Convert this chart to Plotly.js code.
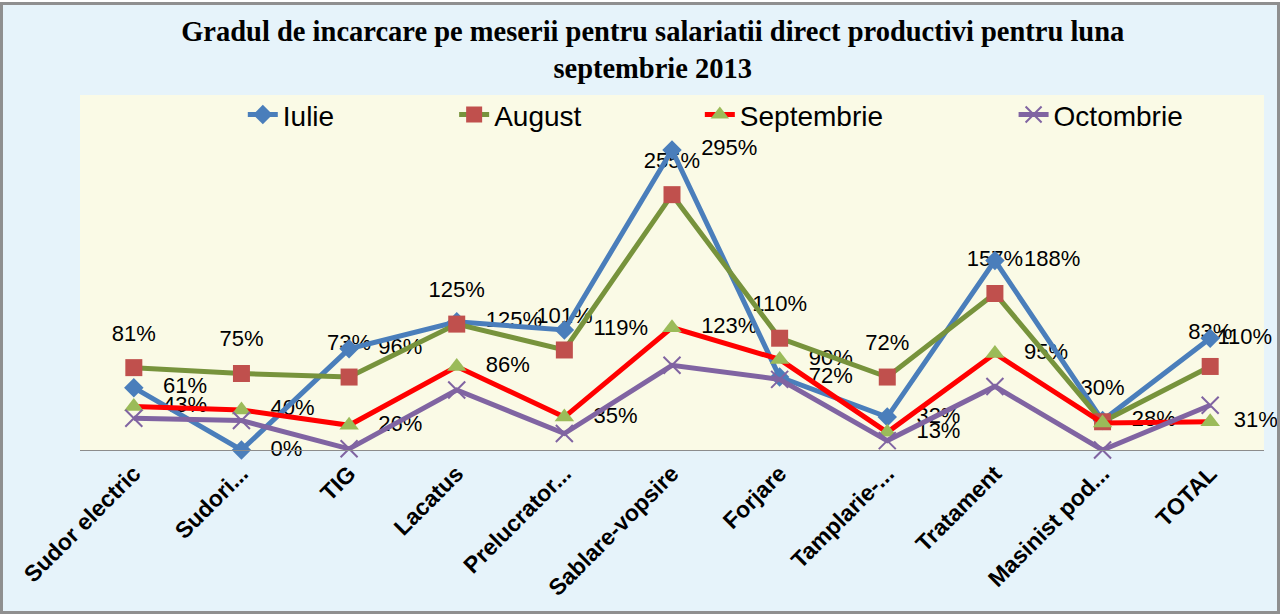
<!DOCTYPE html>
<html>
<head>
<meta charset="utf-8">
<script src="https://cdn.plot.ly/plotly-3.0.1.min.js"></script>
<style>
    body { margin: 0; background: #ffffff; }
    #chart {
        position: absolute; left: 0; top: 2px;
        width: 1280px; height: 612px;
        border: 3px solid #8f8f8f; box-sizing: border-box;
    }
</style>
</head>
<body>
<div id="chart"></div>
<script>
// categories (meserii)
const categories = ['Sudor electric', 'Sudori...', 'TIG', 'Lacatus', 'Prelucrator...', 'Sablare-vopsire',
    'Forjare', 'Tamplarie-...', 'Tratament', 'Masinist pod...', 'TOTAL'];

// plotted values (%)
const iulie      = [53, 0, 86, 109, 102, 255, 62, 28, 161, 25, 95];
const august     = [70, 65, 62, 107, 85, 217, 95, 62, 133, 24, 71];
const septembrie = [37, 34, 21, 71, 28, 104, 77, 15, 82, 23, 24];
const octombrie  = [27, 25, 1, 51, 14, 72, 60, 8, 54, 0, 38];

// data label texts as printed on the chart (%)
const iulieLabels      = [61, 0, 96, 125, 119, 295, 72, 32, 188, 28, 110];
const augustLabels     = [81, 75, 73, 125, 101, 255, 110, 72, 157, 30, 83];
const septembrieLabels = [43, 40, 26, 86, 35, 123, 90, 13, 95, null, 31];

const labelFont = { family: 'Liberation Sans, Arial, sans-serif', size: 22, color: '#000000' };

function pct(arr) {
    return arr.map(function (v) { return v === null ? '' : v + '%'; });
}

// label traces go first so the lines and markers are drawn over them;
// the invisible marker size sets how far the text sits from the point
function labelTrace(values, labels, position, size) {
    return {
        x: categories,
        y: values,
        mode: 'markers+text',
        text: pct(labels),
        textposition: position,
        textfont: labelFont,
        marker: { size: size, opacity: 0 },
        cliponaxis: false,
        showlegend: false,
        hoverinfo: 'skip'
    };
}

// labels at the right edge are pulled in closer, like the original
var rightGap = categories.map(function (c, i) { return i === categories.length - 1 ? 10 : 45; });
var rightGapSept = categories.map(function (c, i) { return i === categories.length - 1 ? 36 : 45; });

var trace1 = {
    x: categories, y: iulie, name: 'Iulie', type: 'scatter', mode: 'lines+markers',
    line: { color: '#4a7ebb', width: 5 },
    marker: { symbol: 'diamond', size: 15, color: '#4a7ebb' },
    cliponaxis: false, legend: 'legend'
};
var trace2 = {
    x: categories, y: august, name: 'August', type: 'scatter', mode: 'lines+markers',
    line: { color: '#77933c', width: 5 },
    marker: { symbol: 'square', size: 17, color: '#c0504d' },
    cliponaxis: false, legend: 'legend2'
};
var trace3 = {
    x: categories, y: septembrie, name: 'Septembrie', type: 'scatter', mode: 'lines+markers',
    line: { color: '#ff0000', width: 5 },
    marker: { symbol: 'triangle-up', size: 17, color: '#9bbb59' },
    cliponaxis: false, legend: 'legend3'
};
var trace4 = {
    x: categories, y: octombrie, name: 'Octombrie', type: 'scatter', mode: 'lines+markers',
    line: { color: '#8064a2', width: 5 },
    marker: { symbol: 'x-thin', size: 17, color: '#8064a2', line: { color: '#8064a2', width: 2 } },
    cliponaxis: false, legend: 'legend4'
};

var data = [
    labelTrace(august, augustLabels, 'top center', 33),
    labelTrace(iulie, iulieLabels, 'middle right', rightGap),
    labelTrace(septembrie, septembrieLabels, 'middle right', rightGapSept),
    trace1, trace2, trace3, trace4
];

var legendFont = { family: 'Liberation Sans, Arial, sans-serif', size: 28, color: '#000000' };
function legendAt(x) {
    return {
        x: x, y: 0.944, xanchor: 'left', yanchor: 'middle',
        orientation: 'h', bgcolor: 'rgba(0,0,0,0)', font: legendFont
    };
}

var layout = {
    width: 1274,
    height: 606,
    title: {
        text: 'Gradul de incarcare pe meserii pentru salariatii direct productivi pentru luna<br>septembrie 2013',
        font: { family: 'Liberation Serif, Times New Roman, serif', size: 28.5, color: '#000000', weight: 'bold' },
        x: 0.51, xanchor: 'center',
        y: 0.94, yanchor: 'top'
    },
    xaxis: {
        type: 'category',
        range: [-0.5, 10.5],
        showline: true, linecolor: '#8c8c8c', linewidth: 1,
        showgrid: false, zeroline: false, ticks: '',
        tickangle: -45,
        tickfont: { family: 'Liberation Sans, Arial, sans-serif', size: 23, color: '#000000', weight: 'bold' }
    },
    yaxis: {
        range: [0, 301.7],
        showgrid: false, zeroline: false, showline: false,
        showticklabels: false, ticks: ''
    },
    legend: legendAt(0.1375),
    legend2: legendAt(0.316),
    legend3: legendAt(0.5235),
    legend4: legendAt(0.7885),
    paper_bgcolor: '#e6f3fa',
    plot_bgcolor: '#fafae6',
    margin: { t: 90, b: 161, l: 77, r: 13 },
    hovermode: false
};

Plotly.newPlot('chart', data, layout, { displayModeBar: false, staticPlot: true });
</script>
</body>
</html>
